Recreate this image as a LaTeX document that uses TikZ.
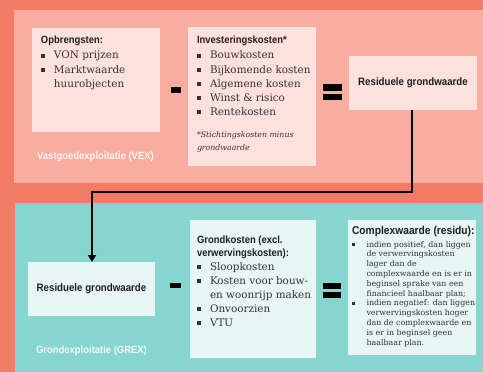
\documentclass[tikz,border=0pt]{standalone}
\usepackage{fontspec}
\setmainfont{DejaVu Serif}
\newfontfamily\hd[FakeStretch=0.9]{Liberation Sans}
\usetikzlibrary{arrows.meta}
\definecolor{bgsalmon}{HTML}{F47B66}
\definecolor{vexpanel}{HTML}{F9ACA0}
\definecolor{vexbox}{HTML}{FDE1DD}
\definecolor{grexpanel}{HTML}{87D5CF}
\definecolor{grexbox}{HTML}{E7F5F4}
\definecolor{ink}{HTML}{333333}
\definecolor{headink}{HTML}{1E1E1E}
\newcommand\bul[1]{\makebox[#1][l]{\raisebox{1.3pt}{\rule{3.8pt}{3.8pt}}}}
\newcommand\sbul{\makebox[14.5pt][l]{\raisebox{1.3pt}{\rule{3pt}{3pt}}}}
\tikzset{
  panel/.style={draw=none, inner sep=0, outer sep=0, anchor=north west},
  box/.style={draw=none, inner sep=0, outer sep=0, anchor=north west},
  txt/.style={anchor=base west, inner sep=0, outer sep=0, text=ink},
  body/.style={txt, font=\fontsize{10.4}{12}\selectfont},
  head/.style={txt, text=headink, font=\hd\bfseries\fontsize{10.5}{12}\selectfont},
  small/.style={txt, font=\fontsize{7.9}{9}\selectfont},
  foot/.style={txt, font=\itshape\fontsize{7.8}{9}\selectfont},
  panellabel/.style={inner sep=0, text=white, text opacity=0.88, font=\hd\bfseries\fontsize{10.5}{12}\selectfont},
  bar/.style={fill=black, draw=none, inner sep=0, outer sep=0},
  conn/.style={line width=2.6pt, draw=black}
}
\begin{document}
\begin{tikzpicture}[x=1pt,y=-1pt]
\fill[bgsalmon] (0,0) rectangle (483,372);
\useasboundingbox (0,0) rectangle (483,372);
% panels
\node[panel, fill=vexpanel, minimum width=469pt, minimum height=173pt] (vex) at (14,10) {};
\node[panel, fill=grexpanel, minimum width=468pt, minimum height=169pt] (grex) at (15,203) {};
\node[panellabel] (vexlabel) at (95.5,157) {Vastgoedexploitatie (VEX)};
\node[panellabel] (grexlabel) at (91.5,351) {Grondexploitatie (GREX)};
% top boxes
\node[box, fill=vexbox, minimum width=128pt, minimum height=104pt] (opb) at (32,28) {};
\node[box, fill=vexbox, minimum width=128pt, minimum height=139pt] (inv) at (188,27) {};
\node[box, fill=vexbox, minimum width=128pt, minimum height=54pt,
      font=\hd\bfseries\fontsize{10.8}{12}\selectfont, text=headink] (res1) at (349,56) {Residuele grondwaarde};
% bottom boxes
\node[box, fill=grexbox, minimum width=127pt, minimum height=54pt,
      font=\hd\bfseries\fontsize{10.8}{12}\selectfont, text=headink] (res2) at (28,262) {Residuele grondwaarde};
\node[box, fill=grexbox, minimum width=126pt, minimum height=138pt] (gk) at (190,220) {};
\node[box, fill=grexbox, minimum width=128pt, minimum height=135pt] (cw) at (348,220) {};
% Opbrengsten text
\node[head] (opbh) at (41,44) {Opbrengsten:};
\node[body] (opb1) at (41,59) {\bul{13pt}VON prijzen};
\node[body] (opb2) at (41,73) {\bul{13pt}Marktwaarde};
\node[body] (opb3) at (41,87) {\hspace{13pt}huurobjecten};
% Investeringskosten text
\node[head] (invh) at (197,44) {Investeringskosten*};
\node[body] (inv1) at (197,59) {\bul{13pt}Bouwkosten};
\node[body] (inv2) at (197,73) {\bul{13pt}Bijkomende kosten};
\node[body] (inv3) at (197,87) {\bul{13pt}Algemene kosten};
\node[body] (inv4) at (197,101) {\bul{13pt}Winst \& risico};
\node[body] (inv5) at (197,115) {\bul{13pt}Rentekosten};
\node[foot] (invf1) at (197,137) {*Stichtingskosten minus};
\node[foot] (invf2) at (197,150) {grondwaarde};
% Grondkosten text
\node[head] (gkh1) at (197,243) {Grondkosten (excl.};
\node[head] (gkh2) at (197,256) {verwervingskosten):};
\node[body] (gk1) at (197,270) {\bul{13pt}Sloopkosten};
\node[body] (gk2) at (197,284) {\bul{13pt}Kosten voor bouw-};
\node[body] (gk3) at (197,298) {\hspace{13pt}en woonrijp maken};
\node[body] (gk4) at (197,312) {\bul{13pt}Onvoorzien};
\node[body] (gk5) at (197,326) {\bul{13pt}VTU};
% Complexwaarde text
\node[head, font=\hd\bfseries\fontsize{11.4}{12}\selectfont] (cwh) at (352,234) {Complexwaarde (residu):};
\node[small] (cw1) at (352,247) {\sbul indien positief, dan liggen};
\node[small] (cw2) at (352,256.8) {\hspace{14.5pt}de verwervingskosten};
\node[small] (cw3) at (352,266.6) {\hspace{14.5pt}lager dan de};
\node[small] (cw4) at (352,276.4) {\hspace{14.5pt}complexwaarde en is er in};
\node[small] (cw5) at (352,286.2) {\hspace{14.5pt}beginsel sprake van een};
\node[small] (cw6) at (352,296) {\hspace{14.5pt}financieel haalbaar plan;};
\node[small] (cw7) at (352,305.8) {\sbul indien negatief: dan liggen};
\node[small] (cw8) at (352,315.6) {\hspace{14.5pt}verwervingskosten hoger};
\node[small] (cw9) at (352,325.4) {\hspace{14.5pt}dan de complexwaarde en};
\node[small] (cw10) at (352,335.2) {\hspace{14.5pt}is er in beginsel geen};
\node[small] (cw11) at (352,345) {\hspace{14.5pt}haalbaar plan.};
% operators
\node[bar, minimum width=10pt, minimum height=6pt] (minus1) at (176,90) {};
\node[bar, minimum width=11pt, minimum height=5.5pt] (minus2) at (175.5,285.5) {};
\node[bar, minimum width=19pt, minimum height=6.5pt] (eq1a) at (332.5,87.5) {};
\node[bar, minimum width=19pt, minimum height=6pt] (eq1b) at (332.5,97) {};
\node[bar, minimum width=18pt, minimum height=6pt] (eq2a) at (332,286) {};
\node[bar, minimum width=18pt, minimum height=6pt] (eq2b) at (332,295) {};
% connector
\coordinate (turnA) at (412,192);
\coordinate (turnB) at (92,192);
\draw[conn, -{Triangle[width=8pt,length=7pt]}] (res1.south -| turnA) -- (turnA) -- (turnB) -- (res2.north -| turnB);
\end{tikzpicture}
\end{document}
